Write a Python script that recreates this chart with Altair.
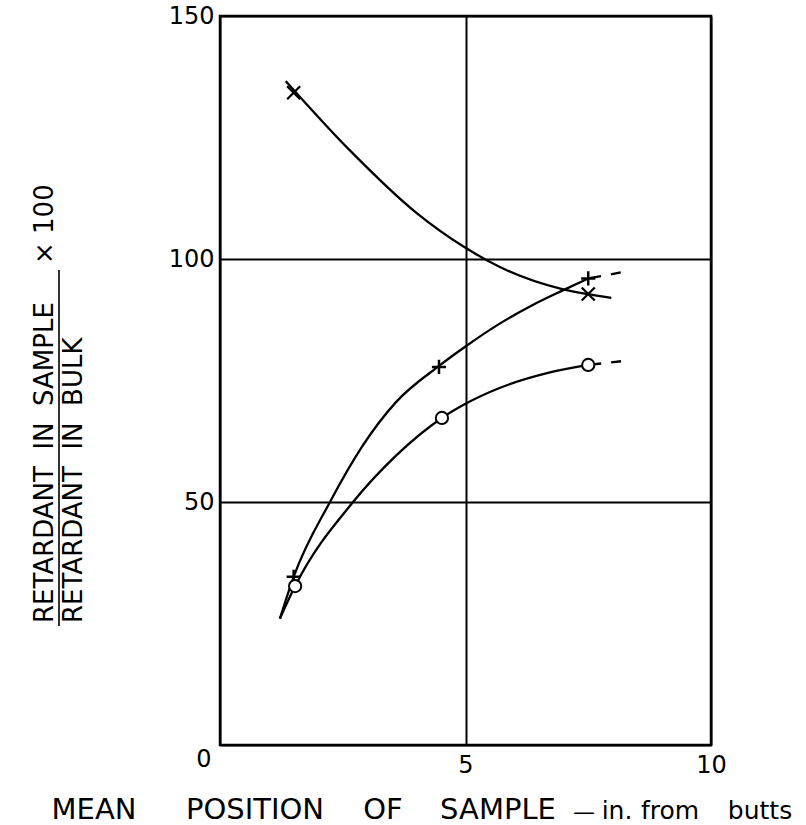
import altair as alt
import pandas as pd

# ---------------- data ----------------
# plotted points (mean position of sample, retardant ratio x 100)
cross_x = [1.5, 7.5]
cross_y = [134.2, 92.8]
plus_x = [1.5, 4.46, 7.5]
plus_y = [34.6, 77.8, 96.0]
circle_x = [1.53, 4.52, 7.5]
circle_y = [32.7, 67.3, 78.2]

# hand-drawn smooth curves
curve_cross_x = [1.34, 2.64, 4.0, 5.0, 5.69, 6.97, 7.46, 7.97]
curve_cross_y = [136.6, 122.4, 109.5, 102.3, 98.4, 93.8, 92.8, 92.0]
curve_plus_x = [1.22, 1.5, 2.24, 2.9, 3.58, 4.46, 5.0, 5.68, 6.36, 6.97, 7.5]
curve_plus_y = [26.0, 34.6, 50.0, 61.5, 70.5, 78.0, 82.0, 86.6, 90.5, 93.5, 96.0]
curve_circle_x = [1.22, 1.53, 2.71, 3.58, 4.52, 5.0, 5.68, 6.7, 7.5]
curve_circle_y = [26.0, 32.7, 50.0, 59.5, 67.3, 70.2, 73.4, 76.6, 78.2]
# dashed extrapolations
ext_x = [7.5, 8.2]
ext_plus_y = [96.0, 97.3]
ext_circle_y = [78.2, 79.0]

x_ticks = [0, 5, 10]
y_ticks = [0, 50, 100, 150]

NB = "\u00a0"
y_title_top = ["RETARDANT" + NB * 2 + "IN" + NB * 2 + "SAMPLE"]
y_title_bottom = ["RETARDANT" + NB * 2 + "IN" + NB * 2 + "BULK"]
y_title_factor = ["\u00d7 100"]
x_title_words = ["MEAN", "POSITION", "OF", "SAMPLE", "\u2014", "in.", "from", "butts"]
corner_label = ["0"]

FONT = "DejaVu Sans"

# ---------------- chart ----------------
xs = alt.Scale(domain=[0, 10], nice=False, zero=False)
ys = alt.Scale(domain=[0, 150], nice=False, zero=False)

x_axis = alt.Axis(values=x_ticks, grid=True, gridColor="black", gridWidth=2, gridOpacity=1,
                  ticks=False, domain=False, labelFont=FONT, labelFontSize=24, labelColor="black",
                  labelPadding=8, labelFlush=False,
                  labelExpr="datum.value == 0 ? '' : datum.label", title=None)
y_axis = alt.Axis(values=y_ticks, grid=True, gridColor="black", gridWidth=2, gridOpacity=1,
                  ticks=False, domain=False, labelFont=FONT, labelFontSize=24, labelColor="black",
                  labelPadding=6, labelFlush=False,
                  labelExpr="datum.value == 0 ? '' : datum.label", title=None)

X = lambda: alt.X("x:Q", scale=xs, axis=x_axis)
Y = lambda: alt.Y("y:Q", scale=ys, axis=y_axis)


def curve(xv, yv, dash=None):
    df = pd.DataFrame({"x": xv, "y": yv})
    kw = dict(interpolate="monotone", color="black", strokeWidth=2.3)
    if dash:
        kw["strokeDash"] = dash
    return alt.Chart(df).mark_line(**kw).encode(x=X(), y=Y(), order=alt.Order("x:Q"))


def points(xv, yv, **mark):
    df = pd.DataFrame({"x": xv, "y": yv})
    return alt.Chart(df).mark_point(opacity=1, **mark).encode(x=X(), y=Y())


def label(textlist, x, y, **mark):
    df = pd.DataFrame({"t": textlist})
    return alt.Chart(df).mark_text(font=FONT, color="black", **mark).encode(
        x=alt.value(x), y=alt.value(y), text="t:N"
    )


layers = [
    curve(curve_cross_x, curve_cross_y),
    curve(curve_plus_x, curve_plus_y),
    curve(curve_circle_x, curve_circle_y),
    curve(ext_x, ext_plus_y, dash=[13, 10, 10, 10]),
    curve(ext_x, ext_circle_y, dash=[13, 10, 10, 10]),
    points(cross_x, cross_y, shape="M-1,-1L1,1M-1,1L1,-1", filled=False,
           color="black", strokeWidth=2.3, size=170),
    points(plus_x, plus_y, shape="M-1,0L1,0M0,-1L0,1", filled=False,
           color="black", strokeWidth=2.5, size=200),
    points(circle_x, circle_y, shape="circle", filled=True, fill="white",
           stroke="black", strokeWidth=2, size=150),
    # corner zero label
    label(corner_label, -16, 744, fontSize=24, align="center", baseline="middle"),
    # y title (fraction x 100)
    label(y_title_top, -175, 607, fontSize=26, angle=270, align="left", baseline="middle"),
    label(y_title_bottom, -146, 607, fontSize=26, angle=270, align="left", baseline="middle"),
    label(y_title_factor, -175, 248, fontSize=26, angle=270, align="left", baseline="middle"),
    alt.Chart(pd.DataFrame({"t": [0]})).mark_rule(color="black", strokeWidth=1.6).encode(
        x=alt.value(-161), y=alt.value(254), y2=alt.value(610)
    ),
]

# x title words (centres along the bottom)
word_centres = [94, 255, 383, 498, 584, 617, 670, 760]
word_sizes = [29, 29, 29, 29, 22, 25, 25, 25]
for w, c, s in zip(x_title_words, word_centres, word_sizes):
    layers.append(label([w], c - 220, 803, fontSize=s, align="center", baseline="alphabetic"))

chart = alt.layer(*layers).properties(
    width=491, height=729,
    padding={"left": 220, "top": 16, "right": 95, "bottom": 80},
    autosize=alt.AutoSizeParams(type="none"),
    background="white",
).configure_view(stroke="black", strokeWidth=2.5)

chart.save("out.html", embed_options={"renderer": "svg", "actions": False})
